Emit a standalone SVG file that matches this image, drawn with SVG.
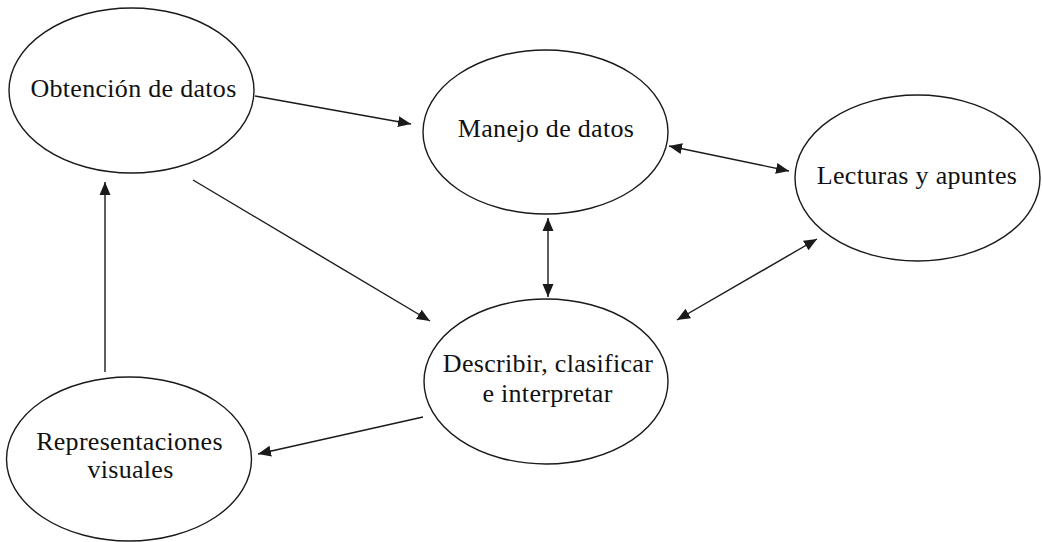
<svg xmlns="http://www.w3.org/2000/svg" width="1042" height="542" viewBox="0 0 1042 542">
<style>
  .node ellipse { fill: #ffffff; stroke: #1a1a1a; stroke-width: 1.4; }
  .node text { font-family: "Liberation Serif", "Times New Roman", serif; font-size: 26px; fill: #111111; text-anchor: middle; letter-spacing: 0.3px; }
  .edge { stroke: #1a1a1a; stroke-width: 1.4; fill: none; }
  .uni { marker-end: url(#arrow); }
  .bi { marker-start: url(#arrow); marker-end: url(#arrow); }
</style>
<defs>
  <marker id="arrow" markerUnits="userSpaceOnUse" markerWidth="14" markerHeight="12" refX="13" refY="5.5" orient="auto-start-reverse" viewBox="0 0 14 11">
    <path d="M0,0 L13,5.5 L0,11 z" fill="#1a1a1a"/>
  </marker>
</defs>
<rect width="1042" height="542" fill="#ffffff"/>
<g id="connectors">
  <line class="edge uni" x1="255" y1="96" x2="411" y2="124"/>
  <line class="edge bi" x1="669" y1="146" x2="789" y2="171"/>
  <line class="edge bi" x1="548" y1="218" x2="548" y2="297"/>
  <line class="edge bi" x1="817" y1="239" x2="677" y2="320"/>
  <line class="edge uni" x1="193" y1="180" x2="430" y2="321"/>
  <line class="edge uni" x1="423" y1="417" x2="258" y2="454"/>
  <line class="edge uni" x1="105" y1="372" x2="105" y2="182"/>
</g>
<g id="obtencion" class="node">
  <ellipse cx="131.5" cy="90.5" rx="122.5" ry="82.5"/>
  <text x="133.5" y="97">Obtención de datos</text>
</g>
<g id="manejo" class="node">
  <ellipse cx="545.5" cy="132" rx="122.5" ry="82"/>
  <text x="546" y="137">Manejo de datos</text>
</g>
<g id="lecturas" class="node">
  <ellipse cx="917.5" cy="178" rx="122.5" ry="83"/>
  <text x="917" y="184">Lecturas y apuntes</text>
</g>
<g id="describir" class="node">
  <ellipse cx="546" cy="381.5" rx="122" ry="82.5"/>
  <text x="548" y="372">Describir, clasificar</text>
  <text x="547.5" y="402">e interpretar</text>
</g>
<g id="representaciones" class="node">
  <ellipse cx="129" cy="459" rx="122.5" ry="82"/>
  <text x="129.5" y="450">Representaciones</text>
  <text x="130.5" y="478">visuales</text>
</g>
</svg>
